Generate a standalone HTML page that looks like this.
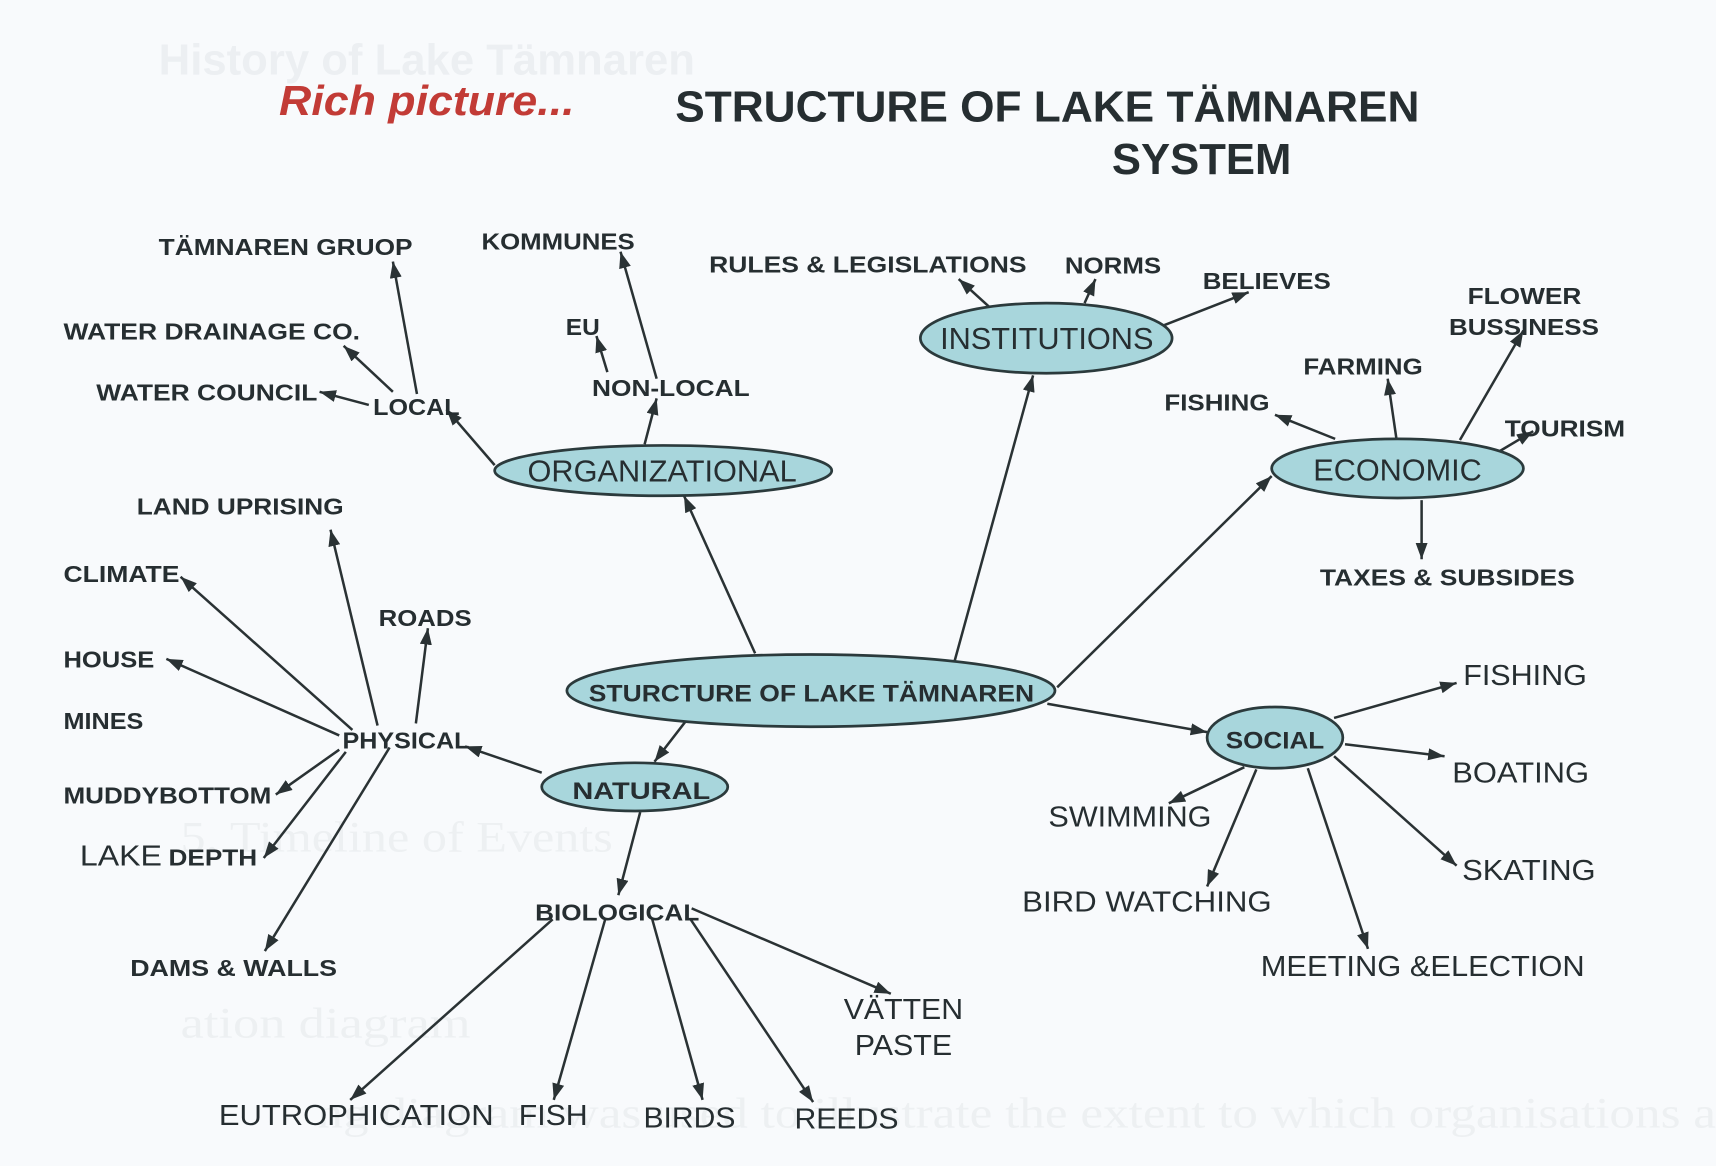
<!DOCTYPE html>
<html><head><meta charset="utf-8"><style>
html,body{margin:0;padding:0;background:#f8fafc;}
svg{display:block;}
text{font-family:"Liberation Sans",Arial,sans-serif;fill:#262e31;}
.b{font-weight:bold;font-size:21.5px;}
.be{font-weight:bold;font-size:22px;}
.r{font-size:26px;}
.re{font-size:28px;}
.g{fill:#eceff2;}
.gs{font-family:"Liberation Serif",serif;fill:#edf0f2;font-size:40px;}
line{stroke:#2a3234;stroke-width:2.3;marker-end:url(#a);}
ellipse{fill:#a8d6dc;stroke:#2b3a3c;stroke-width:2.5;}
</style></head><body>
<svg width="1716" height="1166" viewBox="0 0 1568 1065.4" preserveAspectRatio="none" xmlns="http://www.w3.org/2000/svg">
<defs>
<marker id="a" viewBox="0 0 15 11" refX="15" refY="5.5" markerWidth="15" markerHeight="11" orient="auto" markerUnits="userSpaceOnUse"><path d="M0,0 L15,5.5 L0,11 z" fill="#2a3234"/></marker>
</defs>
<rect x="0" y="0" width="1568" height="1066" fill="#f8fafc"/>

<!-- ghost bleed-through text -->
<text x="145" y="68" class="g" style="font-weight:bold;font-size:40px" textLength="490" lengthAdjust="spacingAndGlyphs">History of Lake Tämnaren</text>
<text x="165" y="778" class="gs" textLength="395" lengthAdjust="spacingAndGlyphs">5. Timeline of Events</text>
<text x="165" y="948" class="gs" textLength="265" lengthAdjust="spacingAndGlyphs">ation diagram</text>
<text x="290" y="1030" class="gs" textLength="1278" lengthAdjust="spacingAndGlyphs">ng diagram was used to illustrate the extent to which organisations a</text>

<!-- titles -->
<text x="255" y="105" style="font-weight:bold;font-style:italic;font-size:38px;fill:#c23b36" textLength="270" lengthAdjust="spacingAndGlyphs">Rich picture...</text>
<text x="617" y="111" style="font-weight:bold;font-size:40px" textLength="680" lengthAdjust="spacingAndGlyphs">STRUCTURE OF LAKE TÄMNAREN</text>
<text x="1016" y="159" style="font-weight:bold;font-size:40px" textLength="164" lengthAdjust="spacingAndGlyphs">SYSTEM</text>

<!-- connectors -->
<line x1="452" y1="425" x2="408" y2="374"/>
<line x1="589" y1="406" x2="600" y2="364"/>
<line x1="337" y1="370" x2="292" y2="358"/>
<line x1="359" y1="358" x2="314" y2="316"/>
<line x1="381" y1="360" x2="359" y2="239"/>
<line x1="600" y1="346" x2="567" y2="230"/>
<line x1="555" y1="340" x2="545" y2="307"/>
<line x1="909" y1="285" x2="876" y2="255"/>
<line x1="991" y1="277" x2="1001" y2="255"/>
<line x1="1064" y1="297" x2="1141" y2="267"/>
<line x1="872" y1="605" x2="944" y2="343"/>
<line x1="690" y1="597" x2="625" y2="453"/>
<line x1="966" y1="628" x2="1162" y2="435"/>
<line x1="1334" y1="402" x2="1392" y2="302"/>
<line x1="1276" y1="401" x2="1268" y2="346"/>
<line x1="1220" y1="401" x2="1165" y2="379"/>
<line x1="1369" y1="413" x2="1401" y2="394"/>
<line x1="1299" y1="457" x2="1299" y2="511"/>
<line x1="957" y1="643" x2="1103" y2="669"/>
<line x1="1219" y1="656" x2="1331" y2="624"/>
<line x1="1229" y1="680" x2="1320" y2="691"/>
<line x1="1219" y1="691" x2="1331" y2="791"/>
<line x1="1195" y1="702" x2="1250" y2="867"/>
<line x1="1148" y1="703" x2="1103" y2="810"/>
<line x1="1137" y1="701" x2="1068" y2="734"/>
<line x1="632" y1="652" x2="598" y2="696"/>
<line x1="495" y1="706" x2="425" y2="682"/>
<line x1="585" y1="742" x2="565" y2="818"/>
<line x1="380" y1="661" x2="391" y2="574"/>
<line x1="310" y1="672" x2="152" y2="602"/>
<line x1="322" y1="667" x2="165" y2="527"/>
<line x1="345" y1="663" x2="302" y2="484"/>
<line x1="310" y1="685" x2="252" y2="726"/>
<line x1="316" y1="687" x2="241" y2="784"/>
<line x1="356" y1="683" x2="242" y2="869"/>
<line x1="505" y1="840" x2="320" y2="1005"/>
<line x1="553" y1="840" x2="506" y2="1005"/>
<line x1="596" y1="840" x2="642" y2="1005"/>
<line x1="631" y1="840" x2="743" y2="1007"/>
<line x1="632" y1="830" x2="814" y2="908"/>

<!-- ellipses -->
<ellipse cx="956" cy="309" rx="115" ry="32"/>
<ellipse cx="606" cy="430" rx="154" ry="23"/>
<ellipse cx="1277" cy="428" rx="115" ry="27"/>
<ellipse cx="741" cy="631" rx="223" ry="33"/>
<ellipse cx="1165" cy="674" rx="62" ry="28"/>
<ellipse cx="580" cy="719" rx="85" ry="22"/>

<!-- ellipse labels -->
<text x="859" y="319" class="re" textLength="195" lengthAdjust="spacingAndGlyphs">INSTITUTIONS</text>
<text x="482" y="440" class="re" textLength="246" lengthAdjust="spacingAndGlyphs">ORGANIZATIONAL</text>
<text x="1200" y="439" class="re" textLength="154" lengthAdjust="spacingAndGlyphs">ECONOMIC</text>
<text x="538" y="641" class="be" textLength="407" lengthAdjust="spacingAndGlyphs">STURCTURE OF LAKE TÄMNAREN</text>
<text x="1120" y="684" class="be" textLength="90" lengthAdjust="spacingAndGlyphs">SOCIAL</text>
<text x="523" y="730" class="be" textLength="126" lengthAdjust="spacingAndGlyphs">NATURAL</text>

<!-- bold labels -->
<text x="145" y="233" class="b" textLength="232" lengthAdjust="spacingAndGlyphs">TÄMNAREN GRUOP</text>
<text x="440" y="228" class="b" textLength="140" lengthAdjust="spacingAndGlyphs">KOMMUNES</text>
<text x="648" y="249" class="b" textLength="290" lengthAdjust="spacingAndGlyphs">RULES &amp; LEGISLATIONS</text>
<text x="973" y="250" class="b" textLength="88" lengthAdjust="spacingAndGlyphs">NORMS</text>
<text x="1099" y="264" class="b" textLength="117" lengthAdjust="spacingAndGlyphs">BELIEVES</text>
<text x="1341" y="278" class="b" textLength="104" lengthAdjust="spacingAndGlyphs">FLOWER</text>
<text x="1324" y="306" class="b" textLength="137" lengthAdjust="spacingAndGlyphs">BUSSINESS</text>
<text x="58" y="310" class="b" textLength="271" lengthAdjust="spacingAndGlyphs">WATER DRAINAGE CO.</text>
<text x="517" y="306" class="b" textLength="31" lengthAdjust="spacingAndGlyphs">EU</text>
<text x="1191" y="342" class="b" textLength="109" lengthAdjust="spacingAndGlyphs">FARMING</text>
<text x="88" y="366" class="b" textLength="202" lengthAdjust="spacingAndGlyphs">WATER COUNCIL</text>
<text x="341" y="379" class="b" textLength="79" lengthAdjust="spacingAndGlyphs">LOCAL</text>
<text x="541" y="362" class="b" textLength="144" lengthAdjust="spacingAndGlyphs">NON-LOCAL</text>
<text x="1064" y="375" class="b" textLength="96" lengthAdjust="spacingAndGlyphs">FISHING</text>
<text x="1375" y="399" class="b" textLength="110" lengthAdjust="spacingAndGlyphs">TOURISM</text>
<text x="125" y="470" class="b" textLength="189" lengthAdjust="spacingAndGlyphs">LAND UPRISING</text>
<text x="1206" y="535" class="b" textLength="233" lengthAdjust="spacingAndGlyphs">TAXES &amp; SUBSIDES</text>
<text x="58" y="532" class="b" textLength="106" lengthAdjust="spacingAndGlyphs">CLIMATE</text>
<text x="346" y="572" class="b" textLength="85" lengthAdjust="spacingAndGlyphs">ROADS</text>
<text x="58" y="610" class="b" textLength="83" lengthAdjust="spacingAndGlyphs">HOUSE</text>
<text x="58" y="666" class="b" textLength="73" lengthAdjust="spacingAndGlyphs">MINES</text>
<text x="313" y="684" class="b" textLength="116" lengthAdjust="spacingAndGlyphs">PHYSICAL</text>
<text x="58" y="734" class="b" textLength="190" lengthAdjust="spacingAndGlyphs">MUDDYBOTTOM</text>
<text x="73" y="791" class="r" textLength="75" lengthAdjust="spacingAndGlyphs">LAKE</text>
<text x="154" y="791" class="b" textLength="81" lengthAdjust="spacingAndGlyphs">DEPTH</text>
<text x="489" y="841" class="b" textLength="150" lengthAdjust="spacingAndGlyphs">BIOLOGICAL</text>
<text x="119" y="892" class="b" textLength="189" lengthAdjust="spacingAndGlyphs">DAMS &amp; WALLS</text>

<!-- regular labels -->
<text x="1337" y="626" class="r" textLength="113" lengthAdjust="spacingAndGlyphs">FISHING</text>
<text x="1327" y="715" class="r" textLength="125" lengthAdjust="spacingAndGlyphs">BOATING</text>
<text x="958" y="755" class="r" textLength="149" lengthAdjust="spacingAndGlyphs">SWIMMING</text>
<text x="1336" y="804" class="r" textLength="122" lengthAdjust="spacingAndGlyphs">SKATING</text>
<text x="934" y="833" class="r" textLength="228" lengthAdjust="spacingAndGlyphs">BIRD WATCHING</text>
<text x="1152" y="892" class="r" textLength="296" lengthAdjust="spacingAndGlyphs">MEETING &amp;ELECTION</text>
<text x="771" y="931" class="r" textLength="109" lengthAdjust="spacingAndGlyphs">VÄTTEN</text>
<text x="781" y="964" class="r" textLength="89" lengthAdjust="spacingAndGlyphs">PASTE</text>
<text x="200" y="1028" class="r" textLength="251" lengthAdjust="spacingAndGlyphs">EUTROPHICATION</text>
<text x="474" y="1028" class="r" textLength="63" lengthAdjust="spacingAndGlyphs">FISH</text>
<text x="588" y="1030" class="r" textLength="84" lengthAdjust="spacingAndGlyphs">BIRDS</text>
<text x="726" y="1031" class="r" textLength="95" lengthAdjust="spacingAndGlyphs">REEDS</text>
</svg>
</body></html>
